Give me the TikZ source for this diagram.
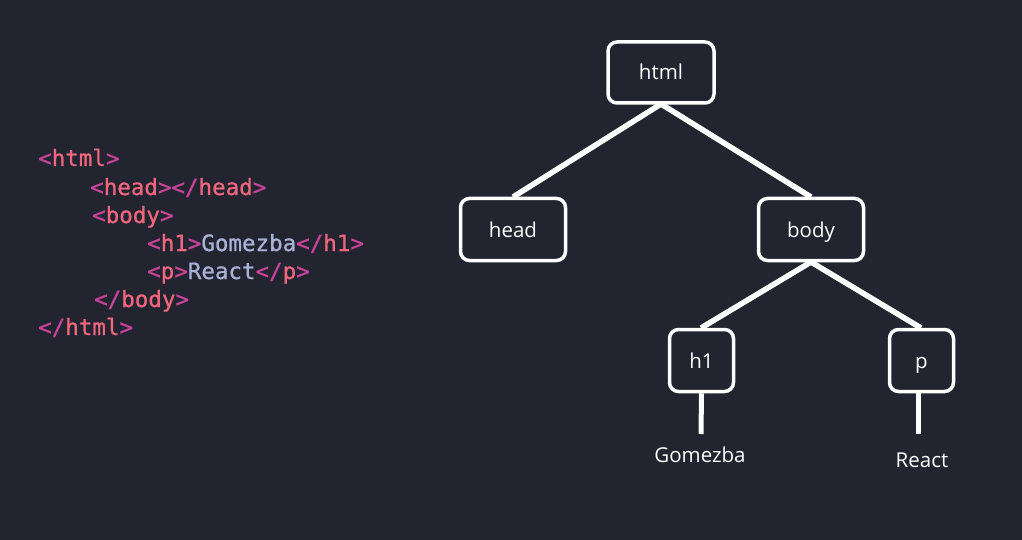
\documentclass[tikz,border=0pt]{standalone}
\usepackage{fontspec}
\setmainfont{Open Sans}
\setmonofont{DejaVu Sans Mono}
\newfontfamily\codefont[FakeBold=0.8]{DejaVu Sans Mono}
\definecolor{bg}{HTML}{22242F}
\definecolor{brk}{HTML}{C8439A}
\definecolor{tagc}{HTML}{F0667F}
\definecolor{txtc}{HTML}{A9B1D6}
\newcommand{\lt}{\textcolor{brk}{<}}
\newcommand{\gt}{\textcolor{brk}{>}}
\newcommand{\lts}{\textcolor{brk}{</}}
\newcommand{\tg}[1]{\textcolor{tagc}{#1}}
\newcommand{\tx}[1]{\textcolor{txtc}{#1}}
\begin{document}
\begin{tikzpicture}[x=1pt,y=-1pt,
  treebox/.style={draw=white, line width=3.5pt, rounded corners=9pt, fill=bg, text=white,
    font=\fontsize{20.5}{24}\selectfont, inner sep=0pt, text height=19pt, text depth=4pt},
  edge/.style={white, line width=5.5pt},
  leaf/.style={text=white, font=\fontsize{20.5}{24}\selectfont, inner sep=0pt},
  code/.style={anchor=base west, inner sep=0pt, font=\codefont\fontsize{22.5}{28}\selectfont}]
\fill[bg] (0,0) rectangle (1022,540);
\useasboundingbox (0,0) rectangle (1022,540);
% code
\node[code] (c1) at (38,166) {\lt\tg{html}\gt};
\node[code] (c2) at (90,195) {\lt\tg{head}\gt\lts\tg{head}\gt};
\node[code] (c3) at (92,223) {\lt\tg{body}\gt};
\node[code] (c4) at (147,251) {\lt\tg{h1}\gt\tx{Gomezba}\lts\tg{h1}\gt};
\node[code] (c5) at (147,279) {\lt\tg{p}\gt\tx{React}\lts\tg{p}\gt};
\node[code] (c6) at (94,307) {\lts\tg{body}\gt};
\node[code] (c7) at (38,335) {\lts\tg{html}\gt};
% tree
\draw[edge] (661,104) coordinate (htmlb) -- (513,197) coordinate (headt);
\draw[edge] (htmlb) -- (811,197) coordinate (bodyt);
\draw[edge] (811,262) coordinate (bodyb) -- (701,328) coordinate (h1t);
\draw[edge] (bodyb) -- (921,328) coordinate (pt);
\coordinate (gl) at (701,434);
\coordinate (rl) at (918,434);
\node[treebox, minimum width=106pt, minimum height=61pt] (html) at (661,72.5) {html};
\node[treebox, minimum width=105pt, minimum height=62pt] (head) at (513,229.5) {head};
\node[treebox, minimum width=105pt, minimum height=62pt] (body) at (811,229.5) {body};
\node[treebox, minimum width=64pt, minimum height=62pt] (h1) at (701.5,360.5) {h1};
\node[treebox, minimum width=64pt, minimum height=62pt] (p) at (921.5,360.5) {p};
\draw[edge, line width=5pt] (h1.south) -- (gl);
\draw[edge, line width=5pt] (918,392) -- (rl);
\node[leaf] (gom) at (700,455) {Gomezba};
\node[leaf] (rea) at (922,460) {React};
\end{tikzpicture}
\end{document}
